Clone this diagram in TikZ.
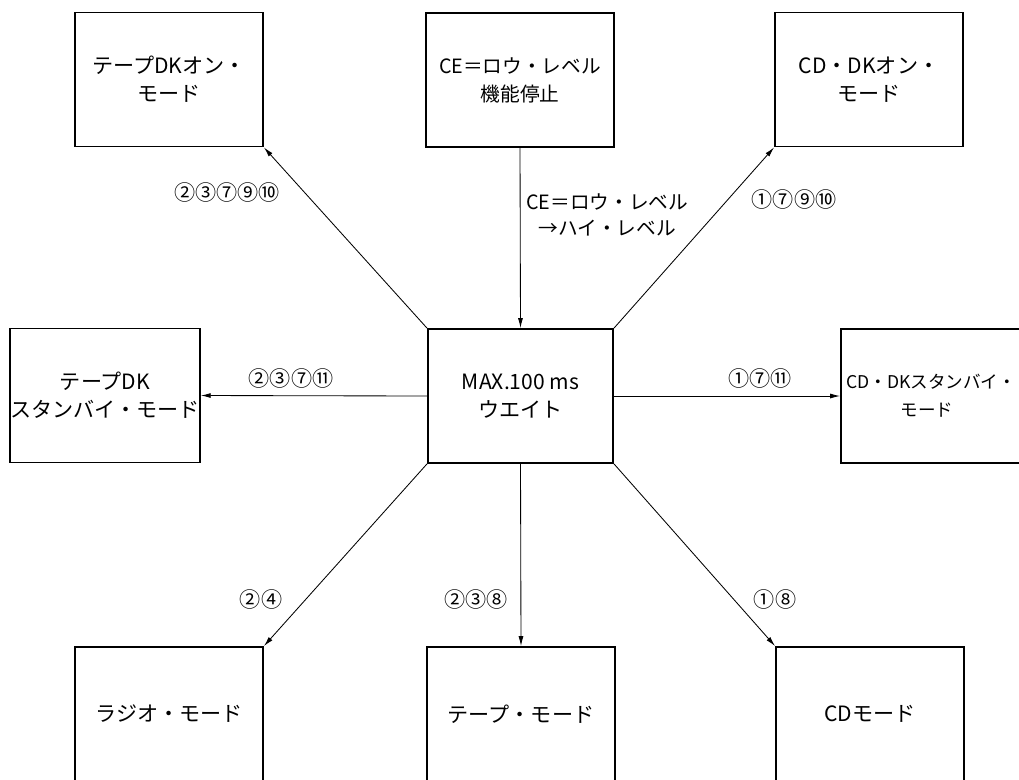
\documentclass[tikz,border=0pt]{standalone}
\usepackage{fontspec}
\setmainfont{Noto Sans CJK JP}
\usepackage{tikz}
\usetikzlibrary{arrows.meta,positioning}

\begin{document}
\begin{tikzpicture}[x=0.025cm,y=-0.025cm,
  font=\fontsize{15}{20}\selectfont,
  modebox/.style={draw,line width=1.3pt,minimum width=4.7cm,minimum height=3.35cm,
                  align=center,inner sep=0pt},
  lbl/.style={align=center,inner sep=0pt},
  arr/.style={-{Latex[length=7pt,width=3.5pt]},line width=0.6pt}]
  \useasboundingbox (0,0) rectangle (1019,779);
  % mode boxes
  \node[modebox] (tapeon)  at (169,79.5)  {テープDKオン・\\モード};
  \node[modebox,font=\fontsize{14}{20}\selectfont] (ceoff) at (520,80) {CE＝ロウ・レベル\\機能停止};
  \node[modebox] (cdon)    at (869,79.5)  {CD・DKオン・\\モード};
  \node[modebox] (tapesb)  at (105,395.5) {テープDK\\スタンバイ・モード};
  \node[modebox,minimum width=4.63cm] (wait) at (520.5,396) {MAX.100 ms\\ウエイト};
  \node[modebox] (cdsb)    at (935,396)   {};
  \node[lbl,anchor=west,font=\fontsize{12.5}{20}\selectfont] (cdsbtext) at (846,396)
    {CD・DKスタンバイ・\\\hspace*{-0.5em}モード};
  \node[modebox] (radio)   at (169,714)   {ラジオ・モード};
  \node[modebox] (tape)    at (521,714)   {テープ・モード};
  \node[modebox] (cd)      at (870,714)   {CDモード};
  % transitions
  \draw[arr] (ceoff.south) -- (wait.north);
  \draw[arr] (wait.north west) -- (tapeon.south east);
  \draw[arr] (wait.north east) -- (cdon.south west);
  \draw[arr] (wait.west) -- (tapesb.east);
  \draw[arr] (wait.east) -- (cdsb.west);
  \draw[arr] (wait.south west) -- (radio.north east);
  \draw[arr] (wait.south) -- (tape.north);
  \draw[arr] (wait.south east) -- (cd.north west);
  % conditions
  \node[lbl,anchor=west,font=\fontsize{14}{19}\selectfont] (ceup) at (526,215)
    {CE＝ロウ・レベル\\→ハイ・レベル};
  \node[lbl] (c2tpon) at (227,192) {②③⑦⑨⑩};
  \node[lbl] (c2cdon) at (794,199) {①⑦⑨⑩};
  \node[lbl] (c2tpsb) at (291,378) {②③⑦⑪};
  \node[lbl] (c2cdsb) at (760,378) {①⑦⑪};
  \node[lbl] (c2rad)  at (261,599) {②④};
  \node[lbl] (c2tape) at (476,599) {②③⑧};
  \node[lbl] (c2cd)   at (775,599) {①⑧};
\end{tikzpicture}
\end{document}
